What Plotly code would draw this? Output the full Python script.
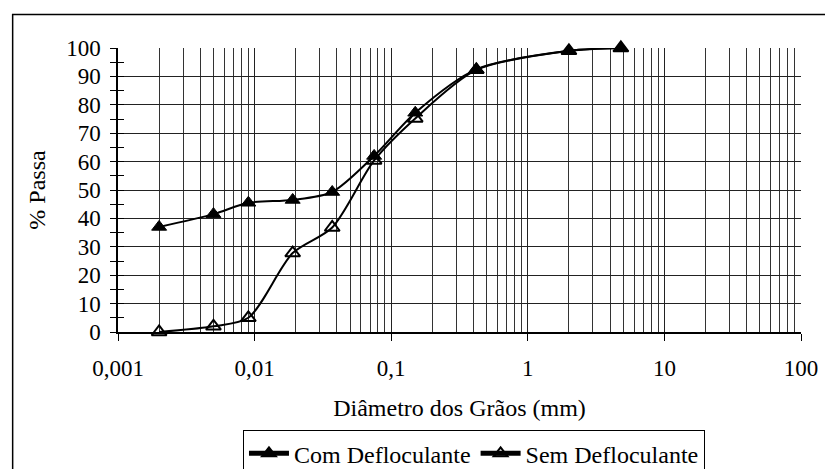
import plotly.graph_objects as go

diam = [0.002, 0.005, 0.009, 0.019, 0.037, 0.075, 0.15, 0.42, 2.0, 4.8]
com_deflo = [37, 41.5, 45.5, 46.5, 49.3, 62, 77.2, 92.5, 99, 100]
sem_deflo = [0, 2, 5, 27.8, 36.8, 60.4, 75.2, 92.3, 99, 100]

xtick_vals = [0.001, 0.01, 0.1, 1, 10, 100]
xtick_text = ["0,001", "0,01", "0,1", "1", "10", "100"]
ytick_vals = list(range(0, 101, 10))

FONT = "Liberation Serif"
FS_TICK = 23
FS = 24

fig = go.Figure()
fig.add_trace(go.Scatter(
    x=diam, y=com_deflo, name="Com Defloculante", mode="lines+markers",
    line=dict(color="black", width=2, shape="spline", smoothing=0.8),
    marker=dict(symbol="triangle-up", size=13, color="black",
                line=dict(color="black", width=1)),
    cliponaxis=False,
))
fig.add_trace(go.Scatter(
    x=diam, y=sem_deflo, name="Sem Defloculante", mode="lines+markers",
    line=dict(color="black", width=2, shape="spline", smoothing=0.8),
    marker=dict(symbol="triangle-up-open", size=13, color="black",
                line=dict(color="black", width=2)),
    cliponaxis=False,
))
# helper trace for the inner half of the crossing y ticks
fig.add_trace(go.Scatter(x=[], y=[], yaxis="y2", showlegend=False, hoverinfo="skip"))

# page has an 8px body margin, so the figure is drawn 8px smaller
W, H = 825, 461
OFF = 8
ml, mr, mt, mb = 109.5, 31.5, 39.5, 137.3
pw, ph = W - ml - mr, H - mt - mb

def px_x(p):  # page pixel -> paper x
    return (p - OFF - ml) / pw

def px_y(p):  # page pixel -> paper y
    return (H - mb - (p - OFF)) / ph

fig.update_layout(
    width=W, height=H,
    margin=dict(l=ml, r=mr, t=mt, b=mb, pad=0, autoexpand=False),
    paper_bgcolor="white", plot_bgcolor="white",
    font=dict(family=FONT, size=FS_TICK, color="black"),
    showlegend=True,
    legend=dict(
        orientation="h", x=px_x(474), xanchor="center", y=px_y(430), yanchor="top",
        bordercolor="black", borderwidth=1, font=dict(size=FS, family=FONT),
        itemwidth=40, tracegroupgap=0, itemsizing="constant",
    ),
    shapes=[dict(type="rect", xref="paper", yref="paper",
                 x0=px_x(12), x1=px_x(845), y0=px_y(480), y1=px_y(14),
                 line=dict(color="black", width=1.5), layer="below")],
    yaxis2=dict(overlaying="y", side="left", range=[0, 100], tickvals=ytick_vals,
                ticks="inside", ticklen=6, tickcolor="black", showticklabels=False,
                showgrid=False, zeroline=False, showline=False,
                minor=dict(ticks="inside", ticklen=6, tickcolor="black", dtick=5, showgrid=False)),
)

fig.update_xaxes(
    type="log", range=[-3, 2], automargin=False,
    tickvals=xtick_vals, ticktext=xtick_text,
    showline=True, linecolor="black", linewidth=1.5,
    ticks="outside", ticklen=7, tickcolor="black",
    showgrid=True, gridcolor="#222", gridwidth=1,
    minor=dict(showgrid=True, gridcolor="#333", gridwidth=1, ticks="", dtick="D1"),
    ticklabelstandoff=8,
    title=dict(text="Diâmetro dos Grãos (mm)", font=dict(size=FS, family=FONT), standoff=19),
    zeroline=False,
)
fig.layout.yaxis.update(
    range=[0, 100], tickvals=ytick_vals, automargin=False,
    showline=True, linecolor="black", linewidth=1.5,
    ticks="outside", ticklen=6, tickcolor="black",
    showgrid=True, gridcolor="#222", gridwidth=1,
    minor=dict(ticks="outside", ticklen=6, tickcolor="black", dtick=5, showgrid=False),
    ticklabelstandoff=5,
    title=dict(text="% Passa", font=dict(size=FS, family=FONT), standoff=14),
    zeroline=False,
)

fig.write_html("out.html")
